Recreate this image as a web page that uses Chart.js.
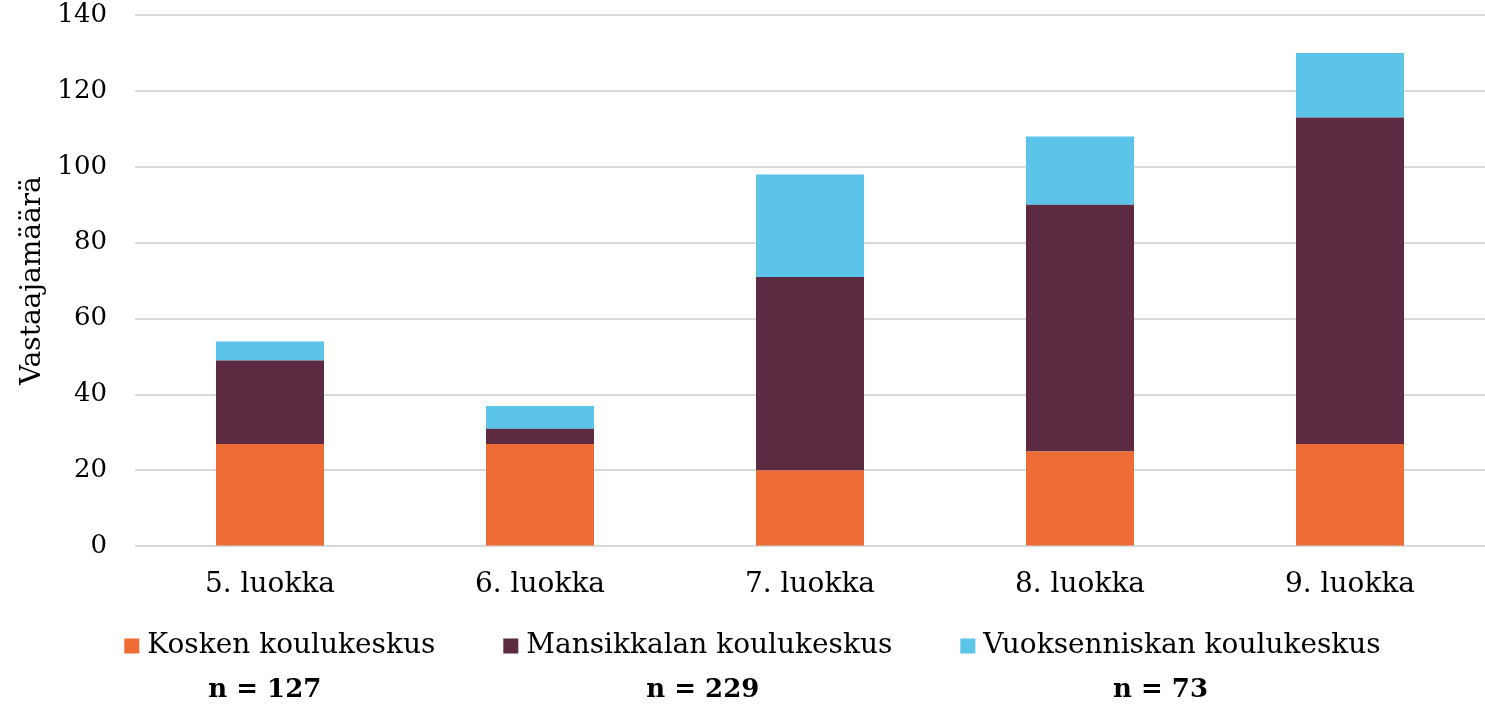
<!DOCTYPE html>
<html>
<head>
<meta charset="utf-8">
<script src="https://cdn.jsdelivr.net/npm/chart.js@4.4.1/dist/chart.umd.min.js"></script>
<style>
  html, body { margin: 0; padding: 0; background: #fff; }
  canvas { display: block; }
</style>
</head>
<body>
<canvas id="myChart" width="1485" height="709"></canvas>
<script>
// luokat (x-akseli)
const luokat = ['5. luokka', '6. luokka', '7. luokka', '8. luokka', '9. luokka'];
// koulukeskukset ja vastaajamäärät
const koulut = ['Kosken koulukeskus', 'Mansikkalan koulukeskus', 'Vuoksenniskan koulukeskus'];
const kosken = [27, 27, 20, 25, 27];
const mansikkala = [22, 4, 51, 65, 86];
const vuoksenniska = [5, 6, 27, 18, 17];
const nArvot = [127, 229, 73];
const yTicks = [0, 20, 40, 60, 80, 100, 120, 140];

const varit = ['#ED6C36', '#5C2A41', '#5BC4E8'];
const fontti = "'DejaVu Serif', Georgia, serif";

// oma selite + n-luvut kaavion alle
const seliteLisa = {
  id: 'seliteLisa',
  afterDraw(chart) {
    const ctx = chart.ctx;
    ctx.save();
    ctx.font = '28px ' + fontti;
    const boxKoko = 15, boxVali = 8, itemVali = 68;
    const nSiirto = [-15, 5, -10]; // n-tekstien sijainti selitteen alla
    const leveydet = koulut.map(t => ctx.measureText(t).width);
    let yhteensa = 0;
    leveydet.forEach(w => { yhteensa += boxKoko + boxVali + w; });
    yhteensa += itemVali * (koulut.length - 1);
    let x = chart.width / 2 + 10 - yhteensa / 2;
    const yRivi = 646;
    koulut.forEach((t, i) => {
      const alku = x;
      ctx.fillStyle = varit[i];
      ctx.fillRect(x, yRivi - boxKoko / 2, boxKoko, boxKoko);
      x += boxKoko + boxVali;
      ctx.fillStyle = '#000';
      ctx.font = '28px ' + fontti;
      ctx.textAlign = 'left';
      ctx.textBaseline = 'middle';
      ctx.fillText(t, x, yRivi);
      x += leveydet[i];
      const keski = (alku + x) / 2;
      ctx.font = 'bold 26px ' + fontti;
      ctx.textAlign = 'center';
      ctx.fillText('n = ' + nArvot[i], keski + nSiirto[i], 690);
      x += itemVali;
    });
    ctx.restore();
  }
};

new Chart(document.getElementById('myChart'), {
  type: 'bar',
  data: {
    labels: luokat,
    datasets: [
      { label: koulut[0], data: kosken, backgroundColor: varit[0] },
      { label: koulut[1], data: mansikkala, backgroundColor: varit[1] },
      { label: koulut[2], data: vuoksenniska, backgroundColor: varit[2] }
    ]
  },
  options: {
    responsive: false,
    animation: false,
    layout: { padding: { left: 6, right: 0, top: 0, bottom: 93 } },
    datasets: { bar: { categoryPercentage: 1, barPercentage: 0.4 } },
    plugins: {
      legend: { display: false },
      tooltip: { enabled: false }
    },
    scales: {
      x: {
        stacked: true,
        grid: { display: false },
        border: { display: false },
        ticks: { color: '#000', padding: 14, font: { family: fontti, size: 28 } }
      },
      y: {
        stacked: true,
        min: 0,
        max: 140,
        afterBuildTicks(axis) { axis.ticks = yTicks.map(v => ({ value: v })); },
        afterFit(axis) { axis.paddingTop = 15; axis.paddingBottom = 0; axis.width = 129; },
        grid: { color: '#d9d9d9', lineWidth: 2, drawTicks: false },
        border: { display: false },
        ticks: { color: '#000', padding: 28, font: { family: fontti, size: 26 } },
        title: {
          display: true,
          text: 'Vastaajamäärä',
          color: '#000',
          padding: 10,
          font: { family: fontti, size: 28 }
        }
      }
    }
  },
  plugins: [seliteLisa]
});
</script>
</body>
</html>
